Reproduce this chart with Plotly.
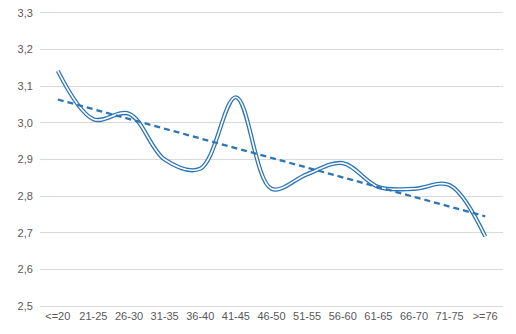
import numpy as np
import plotly.graph_objects as go

categories = ["<=20", "21-25", "26-30", "31-35", "36-40", "41-45", "46-50",
              "51-55", "56-60", "61-65", "66-70", "71-75", ">=76"]
values = [3.142, 3.01, 3.025, 2.90, 2.875, 3.07, 2.82, 2.86, 2.89, 2.825, 2.82, 2.83, 2.69]

blue = "#2E75B6"
idx = np.arange(len(values))
slope, intercept = np.polyfit(idx, values, 1)
trend = slope * idx + intercept

fig = go.Figure()
fig.add_trace(go.Scatter(x=categories, y=values, mode="lines",
                         line=dict(color=blue, width=4.2, shape="spline", smoothing=1.0),
                         hoverinfo="skip", showlegend=False))
fig.add_trace(go.Scatter(x=categories, y=values, mode="lines",
                         line=dict(color="white", width=1.6, shape="spline", smoothing=1.0),
                         hoverinfo="skip", showlegend=False))
fig.add_trace(go.Scatter(x=categories, y=list(trend), mode="lines",
                         line=dict(color=blue, width=2.3, dash="6px,4px"),
                         hoverinfo="skip", showlegend=False))

fig.update_layout(
    width=516, height=334,
    margin=dict(l=40, r=13, t=7, b=28),
    paper_bgcolor="white", plot_bgcolor="white",
    separators=", ",
    font=dict(family="Liberation Sans, Arial, sans-serif", size=11, color="#595959"),
    xaxis=dict(type="category", range=[-0.5, 12.5], showgrid=False,
               showline=True, linecolor="#D9D9D9", linewidth=1, mirror=True,
               zeroline=False, ticks="", tickfont=dict(size=11, color="#595959")),
    yaxis=dict(range=[2.5, 3.3], dtick=0.1, tick0=2.5, tickformat=".1f",
               showgrid=True, gridcolor="#D9D9D9", gridwidth=1, zeroline=False,
               showline=False, ticks="", ticksuffix="  ",
               tickfont=dict(size=11, color="#595959")),
)

fig.write_html("out.html")
